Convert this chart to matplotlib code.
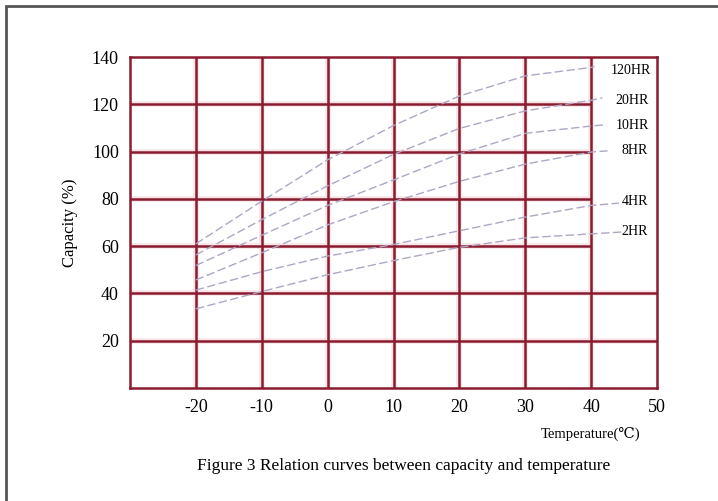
# Capacity vs temperature curves for a battery datasheet figure
import numpy as np
import matplotlib.pyplot as plt
from matplotlib.patches import Rectangle

plt.rcParams['font.family'] = ['Liberation Serif', 'DejaVu Serif']
plt.rcParams['axes.unicode_minus'] = False

# data (temperature in C, capacity in %)
temps = [-20, -10, 0, 10, 20, 30, 40]
cap_120hr = [61, 79, 96.5, 111, 123.5, 132, 135.6]
cap_20hr = [56.3, 71.2, 85.5, 98.8, 109.8, 117.2, 121.7]
cap_10hr = [51.8, 64.6, 77.2, 88, 99, 107.7, 110.8]
cap_8hr = [45.7, 57.2, 69, 78.8, 87.4, 94.7, 99.8]
cap_4hr = [41.4, 49.2, 55.8, 60.7, 66.5, 72.3, 77.2]
cap_2hr = [33.5, 40.8, 47.9, 53.9, 59.5, 63.5, 65.2]
# where each curve stops on the right (temp, capacity)
end_pts = {'120HR': (40.5, 136), '20HR': (41.7, 122.7), '10HR': (42, 111.3),
           '8HR': (42.5, 100.3), '4HR': (44.2, 78.2), '2HR': (44.8, 66)}
curves = {'120HR': cap_120hr, '20HR': cap_20hr, '10HR': cap_10hr,
          '8HR': cap_8hr, '4HR': cap_4hr, '2HR': cap_2hr}
label_pos = {'120HR': (46, 134.5), '20HR': (46.2, 121.5), '10HR': (46.2, 111),
             '8HR': (46.6, 100.5), '4HR': (46.6, 79), '2HR': (46.6, 66.3)}

xticks = [-20, -10, 0, 10, 20, 30, 40, 50]
yticks = [20, 40, 60, 80, 100, 120, 140]

fig = plt.figure(figsize=(7.18, 5.01), dpi=100)
fig.patches.append(Rectangle((6 / 718, -0.1), 1.2, 1.1 - 6 / 501, transform=fig.transFigure,
                             fill=False, edgecolor='#555555', linewidth=2))
ax = fig.add_axes([130 / 718, 113 / 501, 527 / 718, 331 / 501])
ax.set_xlim(-30, 50)
ax.set_ylim(0, 140)

grid_col = '#8a1c30'
glow = '#fbe3e6'
for lw, col in [(4, glow), (1.8, grid_col)]:
    for x in [-20, -10, 0, 10, 20, 30, 40]:
        ax.axvline(x, color=col, lw=lw, zorder=1)
    for y in [20, 40]:
        ax.axhline(y, color=col, lw=lw, zorder=1)
    ax.hlines([60, 80, 100, 120], -30, 40, color=col, lw=lw, zorder=1)

for s in ax.spines.values():
    s.set_color(grid_col)
    s.set_linewidth(1.8)

for name, vals in curves.items():
    xs = temps + [end_pts[name][0]]
    ys = vals + [end_pts[name][1]]
    ax.plot(xs, ys, color='#aca7c4', lw=1.0, ls=(0, (6, 2.5)), zorder=3)
    ax.text(label_pos[name][0], label_pos[name][1], name, fontsize=10,
            ha='center', va='center', zorder=4)

ax.set_xticks(xticks)
ax.set_yticks(yticks)
ax.tick_params(length=0, labelsize=13, pad=8)
ax.set_ylabel('Capacity (%)', fontsize=12, labelpad=10)

fig.text(591 / 718, 1 - 434 / 501, 'Temperature(℃)', fontsize=10.5, ha='center', va='center')
fig.text(404 / 718, 1 - 466 / 501, 'Figure 3 Relation curves between capacity and temperature',
         fontsize=12.5, ha='center', va='center')

fig.savefig('out.png', dpi=100)
